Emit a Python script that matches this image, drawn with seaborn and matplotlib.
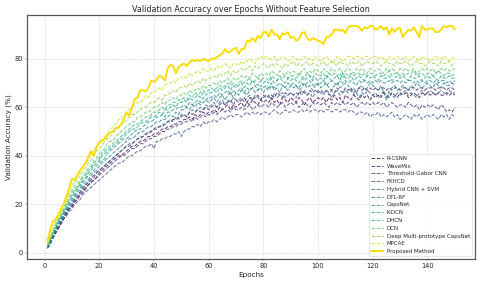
import numpy as np
import matplotlib
matplotlib.use("Agg")
import matplotlib.pyplot as plt
import seaborn as sns

epochs = list(range(1, 151))

models = ["R-CSNN", "WaveMix", "Threshold-Gabor CNN", "FKHCD", "Hybrid CNN + SVM",
          "DTL-RF", "CapsNet", "K-DCN", "DHCN", "DCN",
          "Deep Multi-prototype CapsNet", "MPCAE"]

r_csnn = [2, 4, 6, 8, 10, 12, 14, 16, 18, 19,
          21, 22, 24, 25, 27, 28, 29, 30, 31, 33,
          34, 35, 36, 37, 38, 39, 40, 40, 41, 42,
          43, 44, 44, 45, 46, 46, 47, 48, 48, 49,
          49, 50, 51, 51, 52, 52, 53, 53, 54, 54,
          55, 55, 56, 55, 57, 56, 57, 58, 57, 58,
          58, 59, 58, 60, 59, 60, 61, 59, 61, 60,
          61, 62, 60, 62, 61, 63, 62, 61, 63, 62,
          63, 62, 64, 62, 63, 61, 64, 63, 62, 64,
          63, 62, 64, 63, 61, 63, 64, 62, 63, 64,
          63, 64, 62, 64, 63, 65, 63, 64, 62, 65,
          64, 63, 65, 64, 63, 65, 64, 65, 63, 65,
          64, 65, 64, 66, 65, 64, 66, 65, 64, 66,
          65, 66, 64, 65, 66, 65, 64, 66, 65, 66,
          65, 66, 65, 66, 65, 65, 66, 65, 66, 65]

wavemix = [2, 4, 7, 9, 11, 13, 15, 17, 19, 20,
           22, 23, 25, 26, 28, 29, 30, 31, 33, 34,
           35, 36, 37, 38, 39, 40, 41, 42, 43, 44,
           44, 45, 46, 47, 47, 48, 49, 49, 50, 51,
           51, 52, 52, 53, 54, 54, 55, 55, 56, 56,
           57, 56, 58, 57, 58, 59, 58, 59, 60, 59,
           60, 61, 60, 61, 62, 61, 62, 63, 61, 63,
           62, 63, 64, 62, 64, 63, 64, 65, 63, 64,
           65, 64, 65, 64, 66, 65, 64, 66, 65, 66,
           65, 66, 65, 67, 66, 65, 67, 66, 67, 66,
           67, 66, 67, 65, 67, 66, 68, 67, 66, 68,
           67, 68, 66, 67, 68, 67, 68, 67, 68, 67,
           68, 67, 68, 68, 67, 68, 67, 68, 68, 67,
           68, 68, 67, 68, 68, 67, 68, 68, 67, 68,
           68, 68, 67, 68, 68, 68, 67, 68, 68, 67]

threshold_gabor = [2, 4, 6, 8, 10, 12, 14, 16, 18, 19,
                   21, 22, 24, 25, 26, 28, 29, 30, 31, 32,
                   33, 34, 35, 36, 37, 38, 39, 40, 40, 41,
                   42, 43, 43, 44, 45, 45, 46, 47, 47, 48,
                   48, 49, 50, 50, 51, 51, 52, 52, 53, 53,
                   54, 54, 55, 54, 56, 55, 56, 57, 56, 57,
                   57, 58, 57, 58, 59, 58, 59, 58, 60, 59,
                   59, 60, 59, 60, 61, 59, 60, 61, 60, 61,
                   61, 60, 62, 61, 60, 61, 62, 60, 61, 62,
                   61, 62, 60, 61, 62, 61, 60, 62, 61, 62,
                   61, 62, 61, 60, 62, 61, 62, 61, 62, 61,
                   62, 61, 62, 60, 61, 62, 61, 62, 61, 62,
                   61, 62, 61, 62, 60, 61, 62, 61, 60, 61,
                   61, 60, 62, 61, 60, 61, 59, 61, 60, 61,
                   60, 61, 60, 59, 61, 60, 58, 59, 58, 60]

fkhcd = [2, 3, 6, 8, 10, 12, 14, 15, 17, 18,
         20, 21, 22, 24, 25, 26, 27, 28, 29, 30,
         31, 32, 33, 34, 35, 36, 37, 37, 38, 39,
         40, 40, 41, 42, 42, 43, 44, 44, 45, 43,
         46, 46, 47, 47, 48, 48, 49, 49, 50, 48,
         50, 51, 51, 52, 52, 53, 52, 54, 53, 54,
         54, 55, 54, 55, 56, 55, 56, 57, 56, 57,
         57, 56, 57, 58, 57, 58, 57, 58, 57, 58,
         58, 57, 58, 59, 58, 57, 58, 59, 58, 58,
         59, 58, 58, 59, 58, 59, 58, 59, 59, 58,
         59, 58, 59, 59, 58, 59, 59, 58, 59, 59,
         58, 59, 58, 57, 58, 58, 57, 58, 56, 57,
         57, 58, 56, 57, 56, 57, 58, 56, 57, 55,
         56, 57, 56, 55, 57, 56, 57, 55, 56, 57,
         56, 57, 56, 55, 57, 56, 57, 55, 57, 56]

hybrid_cnn_svm = [2, 4, 6, 9, 11, 13, 15, 17, 19, 20,
                  22, 24, 25, 27, 28, 29, 31, 32, 33, 34,
                  35, 36, 37, 38, 39, 40, 41, 42, 43, 44,
                  45, 45, 46, 47, 48, 48, 49, 50, 50, 51,
                  52, 52, 53, 53, 54, 55, 54, 56, 55, 57,
                  57, 56, 58, 59, 58, 59, 60, 59, 61, 60,
                  61, 62, 60, 62, 63, 61, 63, 62, 64, 63,
                  63, 64, 62, 64, 65, 63, 65, 64, 63, 65,
                  64, 65, 63, 66, 64, 65, 66, 64, 65, 66,
                  65, 64, 66, 65, 67, 65, 66, 64, 66, 67,
                  66, 65, 67, 66, 64, 66, 67, 65, 66, 67,
                  66, 67, 65, 66, 64, 66, 65, 67, 66, 65,
                  66, 64, 65, 67, 63, 66, 65, 64, 66, 65,
                  66, 67, 65, 66, 65, 64, 66, 67, 65, 66,
                  67, 66, 65, 66, 67, 66, 65, 67, 66, 66]

dtl_rf = [2, 4, 7, 9, 12, 14, 16, 18, 20, 21,
          23, 25, 26, 28, 29, 30, 32, 33, 34, 36,
          37, 38, 39, 40, 41, 42, 43, 44, 45, 46,
          47, 47, 48, 49, 50, 50, 51, 52, 52, 53,
          54, 54, 55, 55, 56, 57, 56, 58, 57, 59,
          59, 60, 59, 61, 60, 62, 61, 62, 63, 62,
          63, 64, 62, 64, 65, 63, 65, 66, 64, 66,
          65, 67, 66, 65, 67, 68, 66, 67, 68, 66,
          68, 67, 69, 67, 68, 66, 69, 68, 67, 69,
          68, 69, 67, 68, 70, 68, 69, 67, 69, 70,
          68, 69, 70, 68, 67, 69, 70, 68, 69, 70,
          69, 67, 68, 66, 68, 69, 67, 68, 70, 69,
          68, 67, 69, 66, 64, 67, 68, 69, 67, 68,
          69, 68, 67, 69, 68, 70, 69, 68, 69, 70,
          69, 68, 70, 69, 68, 70, 69, 69, 70, 69]

capsnet = [2, 5, 7, 10, 12, 14, 16, 18, 20, 22,
           24, 26, 27, 29, 30, 32, 33, 34, 36, 37,
           38, 39, 41, 42, 43, 44, 45, 46, 47, 47,
           48, 49, 50, 51, 51, 52, 53, 54, 54, 55,
           56, 56, 57, 56, 58, 58, 59, 59, 60, 60,
           61, 60, 62, 61, 62, 63, 62, 64, 63, 64,
           64, 65, 64, 66, 65, 66, 67, 65, 67, 66,
           67, 68, 66, 68, 67, 68, 69, 67, 69, 68,
           69, 68, 70, 68, 69, 70, 69, 68, 70, 69,
           70, 69, 68, 70, 69, 70, 71, 69, 70, 69,
           70, 71, 69, 70, 71, 70, 69, 71, 70, 71,
           70, 71, 70, 69, 71, 70, 71, 70, 71, 70,
           71, 70, 71, 70, 70, 71, 70, 71, 71, 70,
           71, 70, 71, 71, 70, 71, 70, 71, 70, 71,
           71, 70, 71, 70, 71, 71, 70, 71, 70, 71]

k_dcn = [2, 5, 8, 10, 13, 15, 17, 19, 21, 23,
         25, 27, 28, 30, 31, 33, 34, 36, 37, 38,
         40, 41, 42, 43, 44, 45, 46, 47, 48, 49,
         50, 51, 51, 52, 53, 54, 54, 55, 56, 56,
         57, 58, 57, 59, 59, 60, 61, 60, 62, 62,
         63, 62, 64, 63, 64, 65, 64, 66, 65, 66,
         66, 67, 66, 68, 67, 68, 69, 67, 69, 68,
         69, 70, 68, 70, 69, 71, 70, 69, 71, 70,
         71, 70, 72, 70, 71, 72, 71, 70, 72, 71,
         72, 71, 70, 72, 71, 72, 73, 71, 72, 71,
         72, 71, 73, 72, 71, 72, 73, 71, 74, 72,
         72, 73, 71, 72, 73, 72, 71, 73, 72, 73,
         72, 71, 73, 72, 72, 73, 71, 72, 73, 72,
         73, 72, 71, 73, 72, 72, 73, 71, 72, 73,
         72, 73, 72, 71, 73, 72, 72, 73, 72, 72]

dhcn = [3, 5, 8, 11, 13, 15, 17, 20, 22, 24,
        26, 27, 29, 31, 32, 34, 35, 37, 38, 39,
        41, 42, 43, 44, 45, 46, 47, 48, 49, 50,
        51, 52, 53, 53, 54, 55, 56, 56, 57, 58,
        58, 59, 60, 59, 61, 61, 62, 62, 63, 63,
        64, 63, 65, 64, 66, 65, 66, 67, 66, 67,
        68, 67, 68, 69, 68, 69, 70, 69, 70, 69,
        70, 71, 70, 71, 72, 70, 71, 72, 71, 72,
        72, 71, 73, 72, 71, 73, 72, 73, 72, 73,
        73, 72, 74, 73, 72, 74, 73, 72, 74, 73,
        73, 74, 72, 74, 73, 74, 73, 74, 72, 74,
        73, 74, 73, 74, 74, 73, 74, 73, 74, 74,
        73, 74, 74, 73, 74, 75, 73, 74, 74, 73,
        74, 73, 74, 74, 75, 73, 74, 74, 73, 74,
        74, 73, 74, 75, 74, 73, 74, 74, 73, 74]

dcn = [3, 6, 9, 11, 14, 16, 18, 20, 22, 25,
       27, 28, 30, 32, 33, 35, 36, 38, 39, 41,
       42, 43, 45, 46, 46, 48, 49, 50, 51, 52,
       53, 54, 54, 56, 56, 57, 58, 58, 59, 60,
       60, 61, 62, 61, 63, 63, 64, 63, 65, 65,
       66, 65, 67, 66, 67, 68, 67, 69, 68, 69,
       69, 70, 69, 71, 70, 71, 72, 70, 72, 71,
       72, 73, 72, 73, 72, 74, 73, 72, 74, 73,
       74, 73, 75, 74, 73, 75, 74, 73, 75, 74,
       75, 74, 73, 75, 76, 74, 75, 74, 76, 75,
       74, 76, 75, 74, 76, 75, 75, 76, 74, 75,
       76, 75, 74, 76, 75, 76, 75, 74, 76, 75,
       75, 76, 75, 74, 76, 75, 76, 75, 74, 76,
       75, 76, 75, 75, 76, 74, 75, 76, 75, 76,
       75, 76, 74, 75, 76, 75, 76, 75, 75, 76]

deep_mp_capsnet = [3, 6, 9, 12, 14, 16, 19, 21, 24, 26,
                   28, 30, 32, 34, 35, 37, 38, 40, 42, 43,
                   44, 46, 47, 48, 49, 51, 52, 53, 53, 55,
                   56, 57, 57, 58, 59, 60, 60, 61, 62, 62,
                   63, 64, 63, 65, 65, 66, 67, 66, 68, 68,
                   69, 68, 70, 69, 70, 71, 70, 72, 71, 72,
                   72, 73, 72, 74, 73, 74, 75, 73, 75, 74,
                   75, 76, 75, 76, 77, 75, 77, 76, 77, 78,
                   77, 76, 78, 77, 78, 77, 76, 78, 77, 78,
                   79, 77, 78, 77, 78, 79, 77, 78, 78, 77,
                   78, 79, 77, 78, 79, 78, 77, 79, 78, 78,
                   77, 79, 78, 78, 79, 77, 78, 79, 78, 78,
                   79, 78, 77, 78, 79, 78, 78, 77, 79, 78,
                   78, 79, 78, 77, 78, 79, 78, 78, 77, 78,
                   79, 78, 78, 77, 79, 78, 78, 79, 77, 78]

mpcae = [4, 7, 10, 13, 15, 17, 20, 22, 25, 28,
         29, 32, 34, 35, 37, 38, 41, 42, 44, 46,
         47, 48, 49, 51, 52, 53, 55, 55, 57, 58,
         59, 60, 61, 62, 62, 63, 65, 64, 66, 66,
         67, 68, 67, 69, 70, 70, 71, 70, 72, 72,
         73, 72, 74, 73, 74, 75, 74, 76, 75, 75,
         76, 75, 77, 76, 77, 78, 77, 76, 78, 78,
         77, 79, 78, 79, 80, 79, 78, 80, 81, 80,
         81, 80, 80, 81, 79, 80, 81, 80, 79, 80,
         81, 80, 79, 80, 81, 80, 80, 79, 81, 80,
         79, 80, 81, 80, 78, 79, 81, 80, 79, 80,
         81, 81, 80, 81, 81, 80, 81, 81, 80, 81,
         81, 80, 81, 80, 79, 81, 80, 80, 81, 80,
         80, 81, 79, 80, 81, 80, 79, 81, 80, 80,
         79, 80, 81, 80, 80, 81, 80, 79, 80, 81]

proposed = [4.8, 9.0, 13.0, 13.5, 16.0, 18.0, 20.0, 23.5, 26.5, 30.5,
            30.0, 32.0, 34.0, 35.5, 37.0, 39.5, 42.0, 40.0, 43.5, 45.5,
            46.0, 47.0, 48.5, 49.5, 50.0, 51.5, 51.5, 53.0, 55.0, 58.0,
            56.5, 60.0, 63.5, 64.0, 67.0, 67.0, 66.5, 68.0, 71.0, 70.5,
            71.5, 73.0, 72.5, 71.0, 76.0, 77.5, 77.0, 74.0, 76.5, 77.5,
            78.0, 77.0, 78.5, 79.5, 79.0, 79.5, 79.0, 80.0, 79.5, 79.0,
            80.0, 80.0, 80.5, 81.5, 82.0, 84.0, 82.5, 83.0, 84.0, 84.5,
            82.0, 84.0, 84.0, 87.5, 87.0, 88.5, 87.0, 89.5, 88.5, 91.0,
            91.0, 89.0, 92.0, 90.0, 90.0, 88.0, 90.5, 90.0, 91.0, 88.5,
            89.0, 87.5, 88.0, 90.5, 91.0, 88.5, 87.5, 88.5, 88.0, 87.5,
            87.0, 86.0, 89.0, 89.0, 90.0, 92.0, 92.0, 91.5, 92.0, 90.5,
            93.0, 93.5, 93.5, 93.5, 93.0, 91.5, 93.0, 92.5, 93.5, 93.5,
            92.0, 92.5, 93.5, 92.0, 93.0, 90.0, 92.5, 91.0, 92.5, 92.5,
            89.0, 90.5, 92.0, 91.5, 93.0, 91.0, 89.0, 93.5, 92.0, 92.0,
            92.5, 92.5, 91.0, 91.0, 92.0, 93.5, 93.0, 93.5, 93.5, 92.0]

series = [r_csnn, wavemix, threshold_gabor, fkhcd, hybrid_cnn_svm, dtl_rf,
          capsnet, k_dcn, dhcn, dcn, deep_mp_capsnet, mpcae]

sns.set_style("whitegrid")
fig, ax = plt.subplots(figsize=(12, 7.15), dpi=40)
fig.subplots_adjust(left=0.056, right=0.99, top=0.948, bottom=0.094)

# dashed baselines in viridis, proposed method as a thick solid line
colors = plt.cm.viridis(np.linspace(0, 1, 13))
for name, vals, c in zip(models, series, colors):
    sns.lineplot(x=epochs, y=vals, ax=ax, color=c, linestyle="--",
                 linewidth=1.8, alpha=0.8, label=name)
sns.lineplot(x=epochs, y=proposed, ax=ax, color="#ffdc00", linewidth=3.4,
             label="Proposed Method")

ax.set_title("Validation Accuracy over Epochs Without Feature Selection", fontsize=14.5)
ax.set_xlabel("Epochs", fontsize=13)
ax.set_ylabel("Validation Accuracy (%)", fontsize=13)
ax.tick_params(labelsize=12, length=4, color="#555555", left=True, bottom=True)
ax.grid(True, linestyle=":", color="#bbbbbb", linewidth=1.2)
for s in ax.spines.values():
    s.set_color("#555555")
    s.set_linewidth(2.2)
ax.legend(loc="lower right", fontsize=10)

fig.savefig("out.png", dpi=40)
